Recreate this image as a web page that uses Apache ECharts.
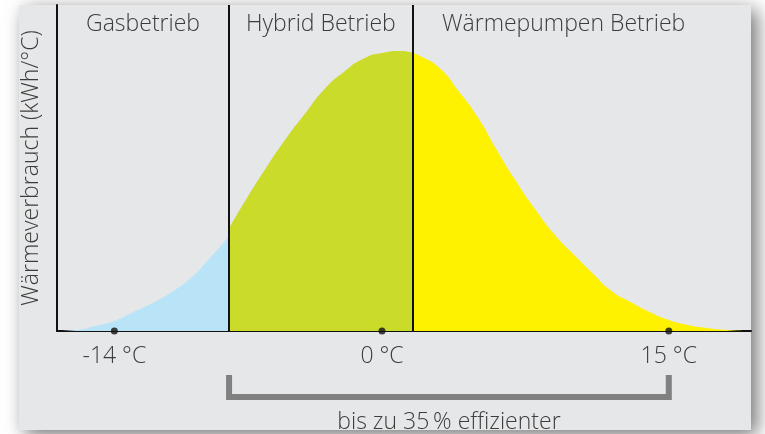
<!DOCTYPE html>
<html>
<head>
<meta charset="utf-8">
<title>Wärmeverbrauch</title>
<script src="https://cdn.jsdelivr.net/npm/echarts@6/dist/echarts.min.js"></script>
<style>
    html, body { margin: 0; padding: 0; background: #fff; }
    #chart { width: 765px; height: 434px; }
</style>
</head>
<body>
<div id="chart"></div>
<script>
// 数据: Außentemperatur (°C) und Wärmeverbrauch je Bereich
var gasTemps = [-17, -16, -15, -14, -13, -12, -11, -10, -9, -8];
var gasValues = [0, 1, 5, 10, 19, 28, 39, 53, 73, 95];

var hybridTemps = [-8, -7, -6, -5, -4, -3, -2, -1, 0, 1, 1.6];
var hybridValues = [103, 135, 165, 193, 218, 242, 259, 272, 278, 280, 278];

var pumpTemps = [1.6, 2, 3, 4, 5, 6, 7, 8, 9, 10, 11, 12, 13, 14, 15, 16, 17, 18, 19];
var pumpValues = [278, 275, 263, 240, 214, 181, 150, 122, 97, 77, 58, 40, 29, 19, 11, 6, 3, 1, 0];

// Bereichsgrenzen und Überschriften
var borders = [-8, 1.6];
var headers = ['Gasbetrieb', 'Hybrid Betrieb', 'Wärmepumpen Betrieb'];
var headerAt = [-12.5, -3.2, 9.5];

// Achsenbeschriftung
var tickValues = [-14, 0, 15];
var bracketFrom = -8;
var bracketTo = 15;
var bracketText = 'bis zu 35\u2009% effizienter';

function pairs(xs, ys) {
    var out = [];
    for (var i = 0; i < xs.length; i++) {
        out.push([xs[i], ys[i]]);
    }
    return out;
}

var font = '"Open Sans", "Noto Sans", sans-serif';
var textColor = '#3c3c3c';

function areaSeries(name, data, color) {
    return {
        name: name,
        type: 'line',
        data: data,
        smooth: 0.6,
        showSymbol: false,
        silent: true,
        lineStyle: { width: 0 },
        areaStyle: { color: color, opacity: 1 },
        z: 2
    };
}

function chartRender() {
    var chart = echarts.init(document.getElementById('chart'));

    var gas = areaSeries('Gasbetrieb', pairs(gasTemps, gasValues), '#b9e3f7');
    var hybrid = areaSeries('Hybrid Betrieb', pairs(hybridTemps, hybridValues), '#cbdb2a');
    var pump = areaSeries('Wärmepumpen Betrieb', pairs(pumpTemps, pumpValues), '#fff200');

    // senkrechte Trennlinien
    pump.markLine = {
        silent: true,
        symbol: 'none',
        label: { show: false },
        lineStyle: { color: '#111', width: 2, type: 'solid' },
        data: borders.map(function (b) { return { xAxis: b }; })
    };

    var dots = {
        type: 'scatter',
        data: tickValues.map(function (t) { return [t, 0]; }),
        symbolSize: 7,
        itemStyle: { color: '#111' },
        clip: false,
        silent: true,
        z: 5
    };

    var option = {
        animation: false,
        backgroundColor: '#ffffff',
        grid: { left: 57, right: 14, top: 5, bottom: 103 },
        xAxis: {
            type: 'value',
            min: -17,
            max: 19.3,
            splitLine: { show: false },
            axisTick: { show: false },
            axisLine: { onZero: false, lineStyle: { color: '#111', width: 2 } },
            axisLabel: {
                customValues: tickValues,
                formatter: function (v) { return v + ' °C'; },
                color: textColor,
                fontFamily: font,
                fontWeight: 300,
                fontSize: 23,
                margin: 14
            }
        },
        yAxis: {
            type: 'value',
            min: 0,
            max: 326,
            name: 'Wärmeverbrauch (kWh/°C)',
            nameLocation: 'middle',
            nameGap: 14,
            nameRotate: 90,
            nameTextStyle: {
                color: textColor,
                fontFamily: font,
                fontWeight: 300,
                fontSize: 23
            },
            splitLine: { show: false },
            axisTick: { show: false },
            axisLabel: { show: false },
            axisLine: { show: true, onZero: false, lineStyle: { color: '#111', width: 2 } }
        },
        series: [gas, hybrid, pump, dots]
    };
    chart.setOption(option);

    // Hintergrund, Überschriften, Klammer
    function px(t, v) {
        return chart.convertToPixel({ xAxisIndex: 0, yAxisIndex: 0 }, [t, v]);
    }
    var graphic = [{
        type: 'rect',
        z: -10,
        silent: true,
        shape: { x: 19, y: 5, width: 732, height: 425 },
        style: {
            fill: '#e6e7e8',
            shadowBlur: 18,
            shadowColor: 'rgba(0,0,0,0.55)',
            shadowOffsetX: 6,
            shadowOffsetY: 5
        }
    }];
    for (var i = 0; i < headers.length; i++) {
        graphic.push({
            type: 'text',
            silent: true,
            x: px(headerAt[i], 0)[0],
            y: 24,
            style: {
                text: headers[i],
                fill: textColor,
                font: '300 23px ' + font,
                textAlign: 'center',
                textVerticalAlign: 'middle'
            }
        });
    }
    var x0 = px(bracketFrom, 0)[0];
    var x1 = px(bracketTo, 0)[0];
    graphic.push({
        type: 'polyline',
        silent: true,
        shape: { points: [[x0, 375], [x0, 397], [x1, 397], [x1, 375]] },
        style: { stroke: '#808080', lineWidth: 6, fill: null, lineJoin: 'miter' }
    });
    graphic.push({
        type: 'text',
        silent: true,
        x: (x0 + x1) / 2,
        y: 422,
        style: {
            text: bracketText,
            fill: textColor,
            font: '300 23px ' + font,
            textAlign: 'center',
            textVerticalAlign: 'middle'
        }
    });
    chart.setOption({ graphic: graphic });
}

chartRender();
</script>
</body>
</html>
